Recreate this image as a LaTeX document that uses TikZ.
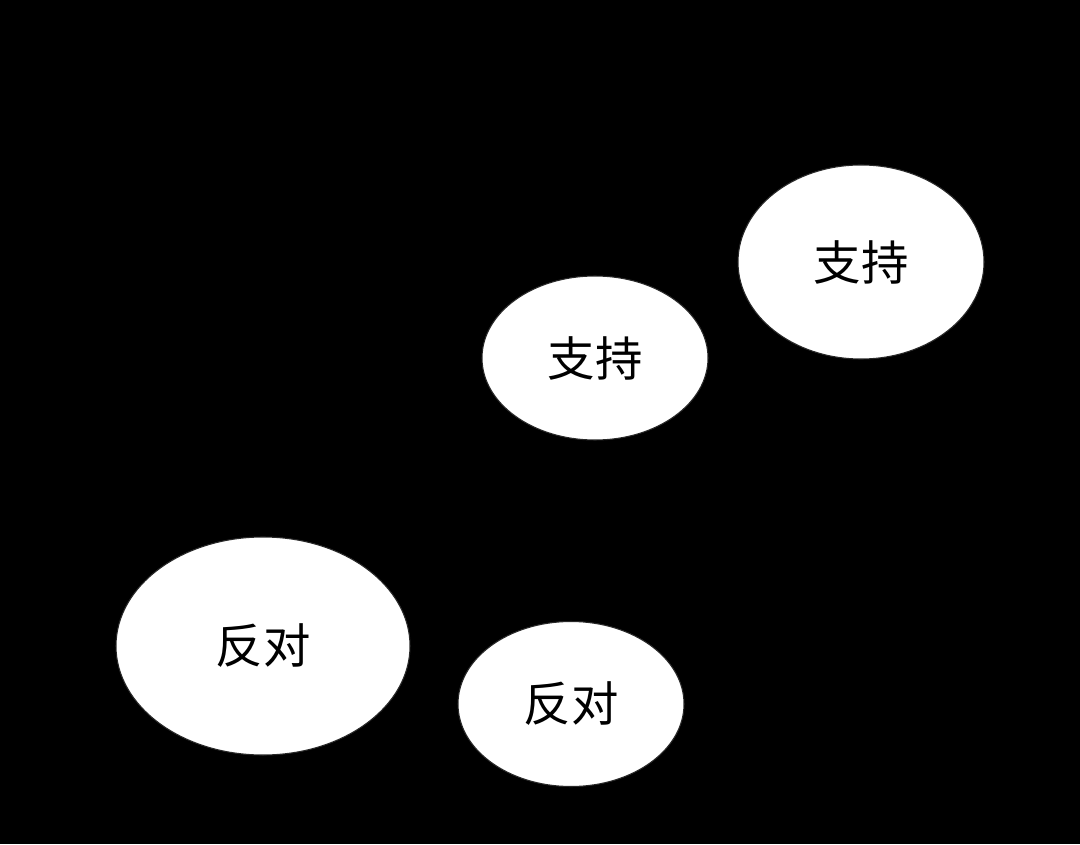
\documentclass[tikz,border=0pt]{standalone}
\usepackage{fontspec}
\newfontfamily\cjk{Noto Sans CJK SC}
\usepackage{tikz}
\usetikzlibrary{shapes,positioning}
\definecolor{bubblegrey}{RGB}{40,40,40}

\begin{document}
\begin{tikzpicture}[
    bubble/.style={ellipse, draw=bubblegrey, line width=0.6pt, fill=white,
        inner sep=0pt, font=\cjk\fontsize{27}{32}\selectfont}
]
\useasboundingbox (0,0) rectangle (21.6,16.88);
\fill[black] (0,0) rectangle (21.6,16.88);
\node[bubble, minimum width=4.92cm, minimum height=3.88cm] (yesA) at (17.22,11.64) {支持};
\node[bubble, minimum width=4.52cm, minimum height=3.28cm] (yesB) at (11.90,9.72) {支持};
\node[bubble, minimum width=5.88cm, minimum height=4.36cm] (noA) at (5.26,3.96) {反对};
\node[bubble, minimum width=4.52cm, minimum height=3.30cm] (noB) at (11.42,2.80) {反对};
\end{tikzpicture}
\end{document}
